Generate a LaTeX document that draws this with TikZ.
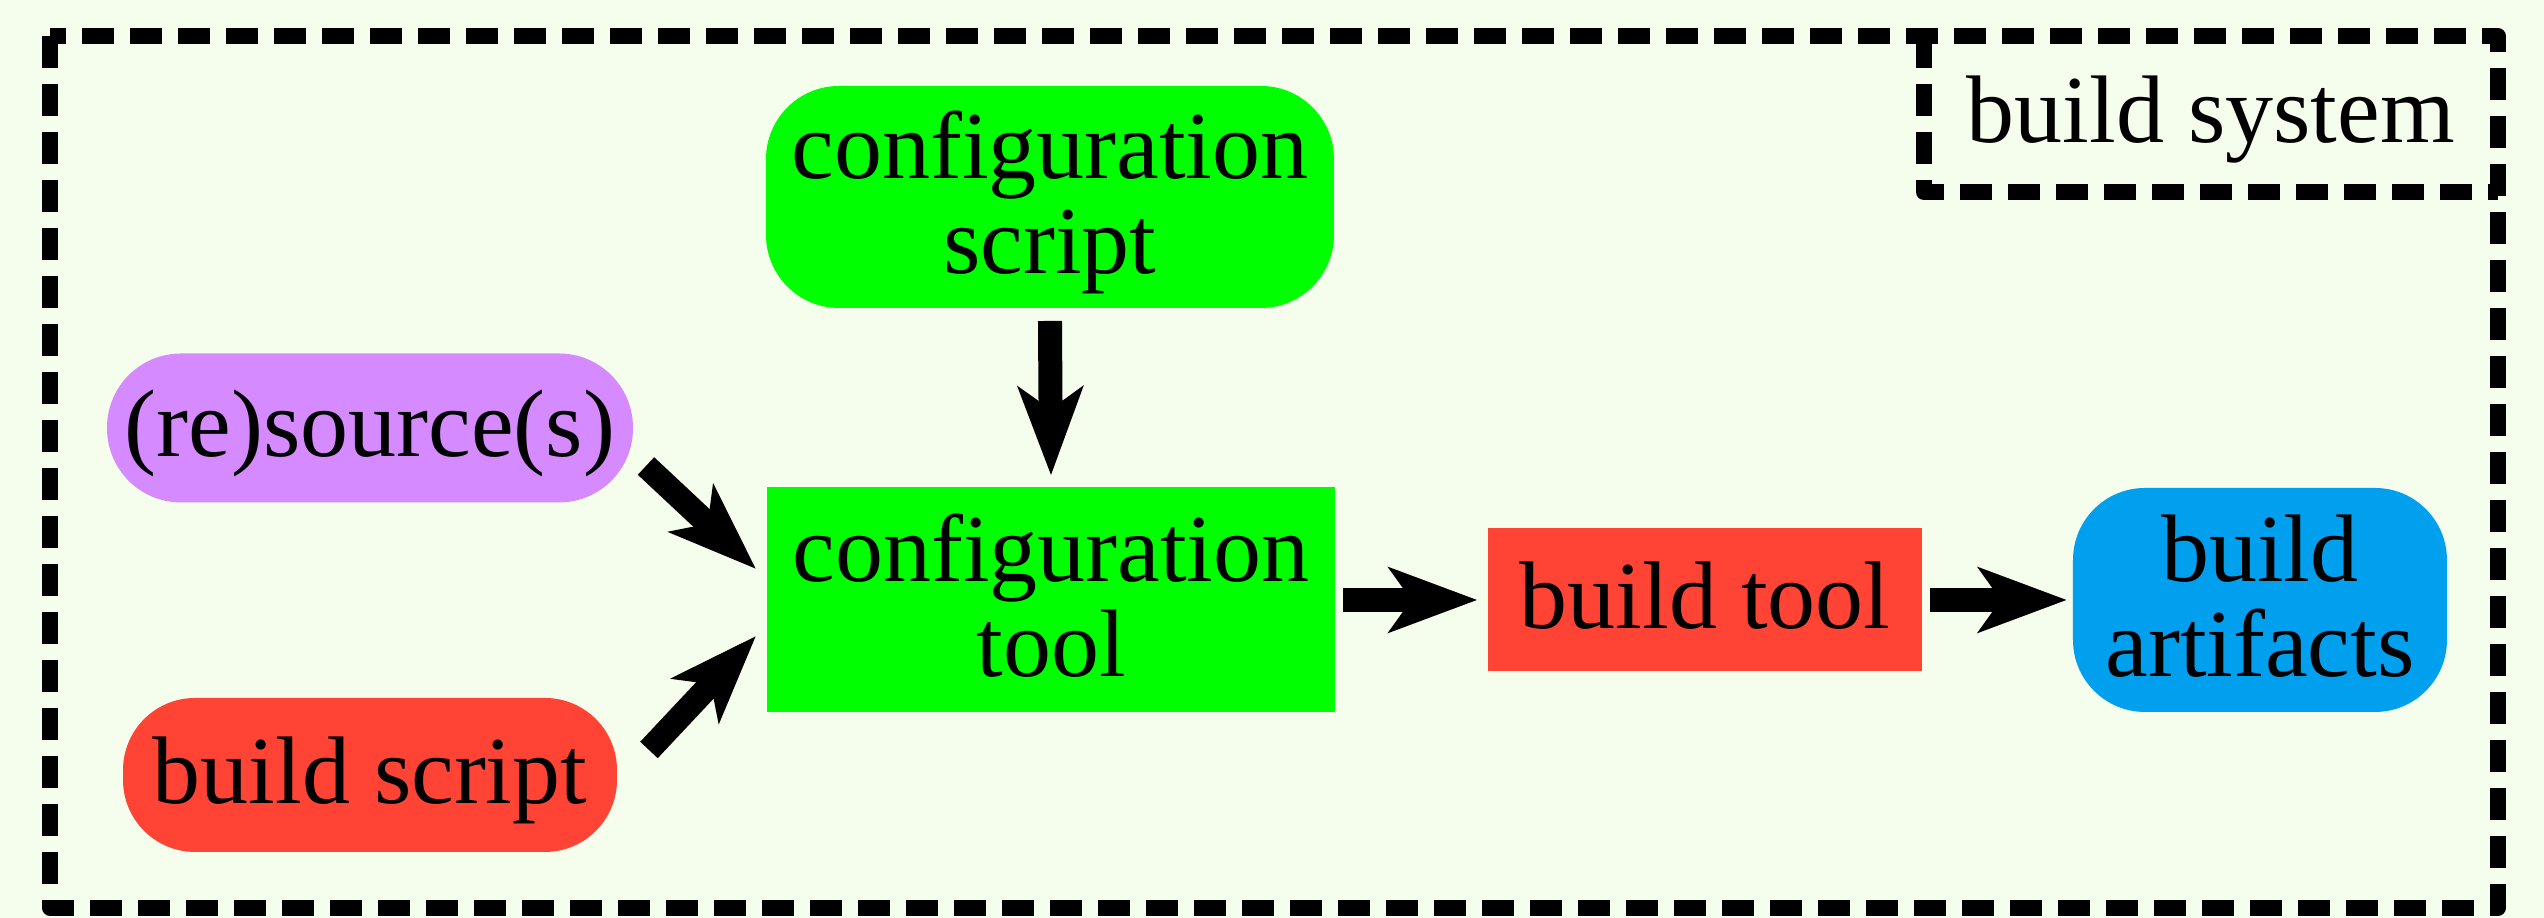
\documentclass[tikz,border=0pt]{standalone}
\usepackage{fontspec}
\setmainfont{Liberation Serif}
\usetikzlibrary{arrows.meta,calc}
\definecolor{bgc}{HTML}{F5FDEC}
\definecolor{grn}{HTML}{00FF00}
\definecolor{lil}{HTML}{D68AFF}
\definecolor{rd}{HTML}{FF4436}
\definecolor{bl}{HTML}{00A0EE}
\newcommand\lnstrut{\rule[-0.25em]{0pt}{1.1em}}
\newcommand\mynodefont{\fontsize{9.6pt}{9.5pt}\selectfont\lineskiplimit -20pt\relax}
\tikzset{
  base/.style={inner sep=0pt, outer sep=0pt, align=center, font=\mynodefont},
  boxnode/.style={base, rectangle},
  roundnode/.style={base, rectangle, rounded corners=#1},
  frameline/.style={draw=black, line width=1.6pt, dash pattern=on 3.2pt off 1.6pt, line join=round},
  arr/.style={line width=2.4pt, -{Stealth[length=8.8pt,width=6.4pt,inset=2.2pt]}},
}
\begin{document}
\begin{tikzpicture}[x=0.1pt,y=-0.1pt]
\fill[bgc] (0,0) rectangle (2544,918);
\useasboundingbox (0,0) rectangle (2544,918);
\node[base, minimum width=244.8pt, minimum height=87.2pt] (frame) at (1274,472) {};
\draw[frameline] (frame.north west) -- (frame.south west) -- (frame.south east) -- (frame.north east) -- cycle;
\node[base, anchor=north east, minimum width=57.4pt, minimum height=15.6pt] (lbl) at (frame.north east) {\lnstrut build system};
\draw[frameline] (lbl.north west) -- (lbl.south west) -- (lbl.south east);
\node[roundnode=7.3pt, fill=grn, minimum width=56.8pt, minimum height=22.2pt] (cscript) at (1050,197) {\lnstrut configuration\\\lnstrut script};
\node[roundnode=7.4pt, fill=lil, minimum width=52.6pt, minimum height=14.9pt] (res) at (370,428) {\lnstrut (re)source(s)};
\node[roundnode=7.2pt, fill=rd, minimum width=49.4pt, minimum height=15.4pt] (bscript) at (370,775) {\lnstrut build script};
\node[boxnode, fill=grn, minimum width=56.8pt, minimum height=22.5pt] (ctool) at (1051,600) {\lnstrut configuration\\\lnstrut tool};
\node[boxnode, fill=rd, minimum width=43.5pt, minimum height=14.3pt] (btool) at (1705,600) {\lnstrut build tool};
\node[roundnode=7.2pt, fill=bl, minimum width=37.4pt, minimum height=22.4pt] (art) at (2260,600) {\lnstrut build\\\lnstrut artifacts};
\draw[arr] ([yshift=-1.3pt]cscript.south) -- ([yshift=1.2pt]ctool.north);
\draw[arr] ($(res.east)+(13,38)$) -- ($(ctool.west)+(-11,-31)$);
\draw[arr] ($(bscript.east)+(32,-25)$) -- ($(ctool.west)+(-11,36)$);
\draw[arr] ([xshift=0.8pt]ctool.east) -- ([xshift=-1.0pt]btool.west);
\draw[arr] ([xshift=0.8pt]btool.east) -- ([xshift=-0.6pt]art.west);
\end{tikzpicture}
\end{document}
